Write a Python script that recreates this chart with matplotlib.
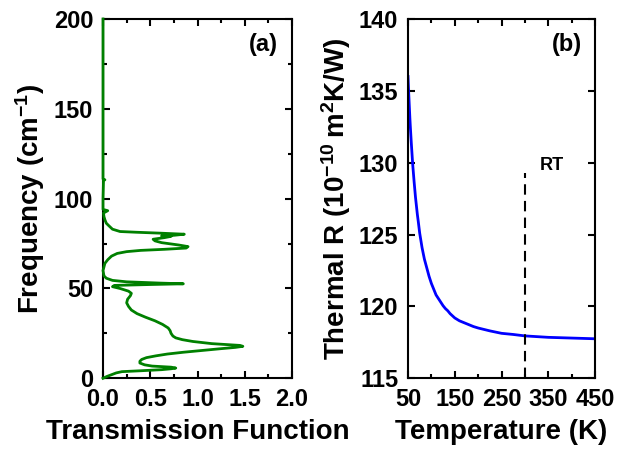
#Python libraries for math and graphics
import numpy as np
import matplotlib
matplotlib.use('Agg')
import matplotlib.pyplot as plt
from matplotlib.ticker import MultipleLocator, FixedLocator

plt.rcParams['font.family'] = ['Liberation Sans', 'DejaVu Sans']
plt.rcParams['font.weight'] = 'bold'
plt.rcParams['axes.labelweight'] = 'bold'
plt.rcParams['mathtext.fontset'] = 'custom'
plt.rcParams['mathtext.rm'] = 'Liberation Sans:bold'
plt.rcParams['mathtext.default'] = 'rm'

#Input data (a): transmission function vs frequency
freq = [0, 1, 2, 3, 3.7, 4.2, 4.8, 5.3, 5.7, 6.2, 6.8, 7.5, 8.5, 9.5, 10.5,
        11.5, 12.5, 13.5, 14.5, 15.5, 16.5, 17.2, 17.8, 18.3, 18.8, 19.3,
        20.5, 21.5, 22.5, 23.5, 25, 26.5, 28, 30, 32, 34, 36, 38, 40, 42,
        44, 46, 47.3, 48.5, 50, 51, 51.7, 52.2, 52.6, 53, 53.7, 54.5, 55.7,
        57, 60, 62, 64, 66, 68, 69.5, 70.5, 71.2, 71.8, 72.5, 73.3, 74.2,
        75.5, 76.5, 77.4, 78.3, 79.0, 79.3, 79.6, 80.2, 80.8, 81.3, 81.7,
        83, 85, 86.3, 88.2, 90, 92, 93.3, 94, 100, 110, 110.5, 111, 200]
trans = [0.0, 0.04, 0.09, 0.14, 0.20, 0.40, 0.62, 0.72, 0.77, 0.72, 0.52,
         0.44, 0.39, 0.39, 0.41, 0.46, 0.56, 0.68, 0.85, 1.05, 1.25, 1.40,
         1.48, 1.45, 1.30, 1.15, 0.95, 0.84, 0.77, 0.74, 0.72, 0.71, 0.69,
         0.63, 0.55, 0.45, 0.36, 0.30, 0.27, 0.25, 0.26, 0.29, 0.30, 0.27,
         0.18, 0.10, 0.12, 0.50, 0.85, 0.60, 0.25, 0.10, 0.035, 0.01, 0.0,
         0.01, 0.02, 0.05, 0.09, 0.15, 0.25, 0.40, 0.65, 0.88, 0.90, 0.80,
         0.62, 0.55, 0.53, 0.65, 0.72, 0.62, 0.75, 0.86, 0.60, 0.35, 0.18,
         0.10, 0.06, 0.035, 0.02, 0.01, 0.005, 0.05, 0.0, 0.0, 0.005, 0.02,
         0.0, 0.0]

#Input data (b): thermal resistance vs temperature
temp = [50, 51, 52, 53, 54, 55, 57, 58, 60, 62, 63, 66, 68, 70, 72, 75, 78,
        80, 85, 90, 95, 100, 105, 110, 115, 120, 125, 130, 135, 140, 150,
        160, 175, 190, 200, 225, 250, 275, 300, 350, 400, 450]
res = [136.0, 135.2, 134.5, 133.8, 133.1, 132.5, 131.4, 130.9, 129.9,
       129.1, 128.7, 127.6, 127.0, 126.4, 125.9, 125.1, 124.5, 124.1,
       123.3, 122.7, 122.1, 121.6, 121.2, 120.8, 120.55, 120.3, 120.05,
       119.85, 119.7, 119.5, 119.2, 119.0, 118.8, 118.6, 118.5, 118.3,
       118.13, 118.05, 117.95, 117.85, 117.8, 117.75]
rt_temp = 300
temp_ticks = [50, 150, 250, 350, 450]

fig = plt.figure(figsize=(6.18, 4.61), dpi=100)
ax1 = fig.add_axes([0.1667, 0.1794, 0.3058, 0.7794])
ax2 = fig.add_axes([0.6602, 0.1794, 0.3026, 0.7794])

for ax in (ax1, ax2):
    for s in ax.spines.values():
        s.set_linewidth(1.5)
    ax.tick_params(which='both', direction='in', top=True, right=True,
                   width=1.5, labelsize=17, pad=7)
    ax.tick_params(which='major', length=5)
    ax.tick_params(which='minor', length=3)

#(a)
ax1.plot(trans, freq, color='#008000', lw=2.0, clip_on=False, zorder=3)
ax1.set_xlim(0, 2.0)
ax1.set_ylim(0, 200)
ax1.xaxis.set_major_locator(MultipleLocator(0.5))
ax1.xaxis.set_minor_locator(MultipleLocator(0.25))
ax1.yaxis.set_major_locator(MultipleLocator(50))
ax1.yaxis.set_minor_locator(MultipleLocator(25))
ax1.xaxis.set_major_formatter(plt.FuncFormatter(lambda v, p: '%.1f' % v))
ax1.set_xlabel('Transmission Function', fontsize=20, labelpad=6)
ax1.set_ylabel('Frequency (cm$^{-1}$)', fontsize=20, labelpad=5)
ax1.text(0.85, 0.93, '(a)', transform=ax1.transAxes, fontsize=17,
         ha='center', va='center')

#(b)
ax2.plot(temp, res, color='blue', lw=2.0)
ax2.plot([rt_temp, rt_temp], [115, 129.3], color='black', lw=1.5,
         dashes=(5, 3))
ax2.text(358, 129.8, 'RT', fontsize=13, ha='center', va='center')
ax2.set_xlim(50, 450)
ax2.set_ylim(115, 140)
ax2.xaxis.set_major_locator(FixedLocator(temp_ticks))
ax2.xaxis.set_minor_locator(MultipleLocator(100))
ax2.yaxis.set_major_locator(MultipleLocator(5))
ax2.set_xlabel('Temperature (K)', fontsize=20, labelpad=6)
ax2.set_ylabel(r'Thermal R (10$^{-10}$$\,$m$^{2}$K/W)', fontsize=20,
               labelpad=4)
ax2.text(0.85, 0.93, '(b)', transform=ax2.transAxes, fontsize=17,
         ha='center', va='center')

plt.savefig('out.png', dpi=100)
